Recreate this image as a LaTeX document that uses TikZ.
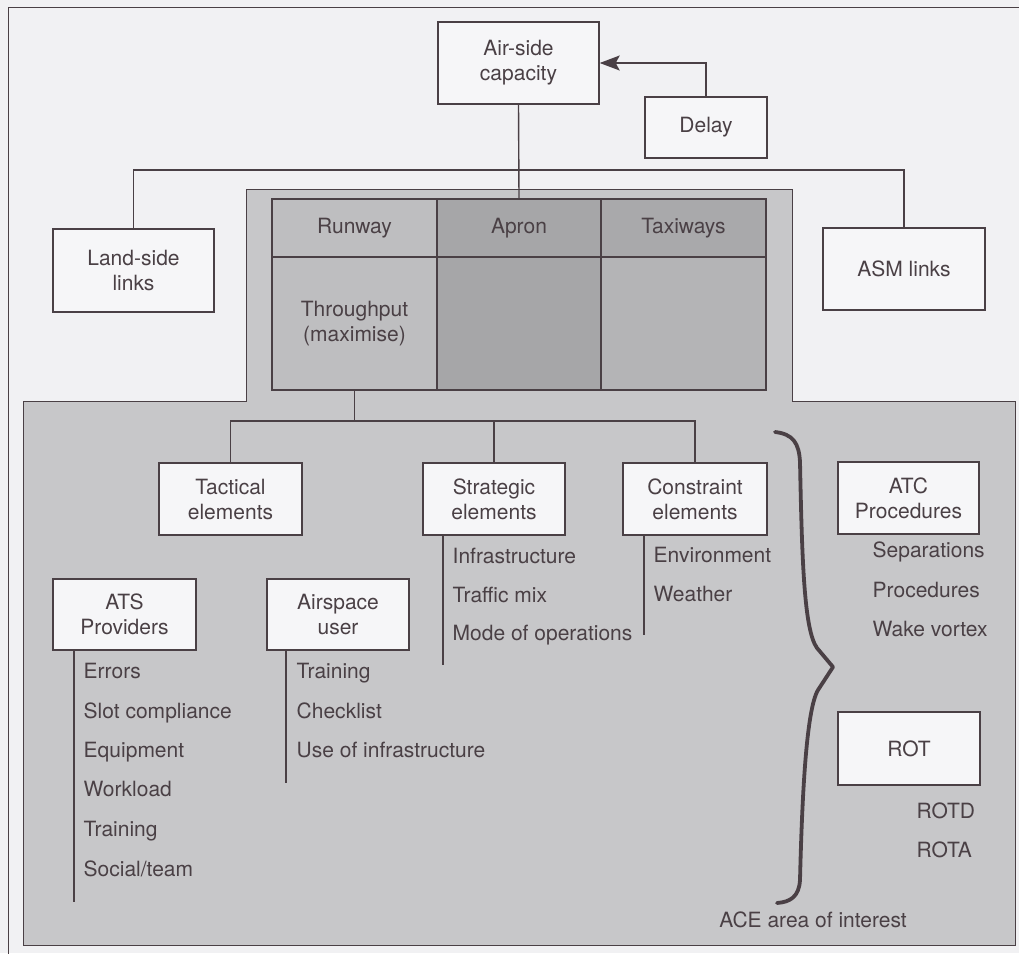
\documentclass[tikz,border=0pt]{standalone}
\usepackage{fontspec}
\setmainfont{TeX Gyre Heros}
\usepackage{tikz}
\usetikzlibrary{positioning,arrows.meta}
\usepackage{xcolor}
\definecolor{pagebg}{HTML}{F1F1F3}
\definecolor{boxwhite}{HTML}{F6F6F8}
\definecolor{areagray}{HTML}{C7C7C9}
\definecolor{rwygray}{HTML}{BEBEC0}
\definecolor{aprgray}{HTML}{A6A6A8}
\definecolor{twygray}{HTML}{A9A9AB}
\definecolor{twylight}{HTML}{B4B4B6}
\definecolor{inkline}{HTML}{4A4045}

\begin{document}
\begin{tikzpicture}[x=1pt,y=-1pt,color=inkline,line width=1.4pt,
    box/.style={draw,fill=boxwhite,align=center,inner sep=0pt,
        minimum width=142pt,minimum height=72pt,font=\fontsize{21}{25}\selectfont},
    cell/.style={draw,align=center,inner sep=0pt,minimum width=165pt,
        minimum height=58pt,font=\fontsize{21}{25}\selectfont},
    item/.style={anchor=base west,inner sep=0pt,font=\fontsize{21}{25}\selectfont}]
    \clip (0,0) rectangle (1019,953);
    \fill[pagebg] (0,0) rectangle (1019,953);
    \draw[line width=1pt] (8,970) -- (8,7) -- (1040,7);

    % shaded area of the airport system
    \filldraw[fill=areagray,line width=1pt] (246,189) -- (792,189) -- (792,401)
        -- (1015,401) -- (1015,945) -- (23,945) -- (23,401) -- (246,401) -- cycle;

    \begin{scope}[shift={(0,0)}]
        \node[box,minimum width=161pt,minimum height=82pt] (air) at (518.5,63) {Air-side\\capacity};
        \node[box,minimum width=122pt,minimum height=61pt] (delay) at (706,127.5) {Delay};
        \node[box,minimum width=161pt,minimum height=83pt] (land) at (133.5,270.5) {Land-side\\links};
        \node[box,minimum width=162pt,minimum height=82pt] (asm) at (904,269) {ASM links};

        \node[cell,fill=rwygray] (rwy) at (354.5,228) {Runway};
        \node[cell,fill=aprgray,minimum width=164pt] (apr) at (519,228) {Apron};
        \node[cell,fill=twygray] (twy) at (683.5,228) {Taxiways};
        \node[cell,fill=rwygray,minimum height=133pt] (thru) at (354.5,323.5) {Throughput\\(maximise)};
        \node[cell,fill=aprgray,minimum width=164pt,minimum height=133pt] (aprlow) at (519,323.5) {};
        \node[cell,fill=twylight,minimum height=133pt] (twylow) at (683.5,323.5) {};

        \node[box,minimum width=143pt] (tact) at (230.5,499) {Tactical\\elements};
        \node[box] (strat) at (494,499) {Strategic\\elements};
        \node[box,minimum width=144pt] (cons) at (695,499) {Constraint\\elements};
        \node[box,minimum width=141pt] (atc) at (908.5,498) {ATC\\Procedures};

        \node[box,minimum width=143pt,minimum height=71pt] (ats) at (124.5,614.5) {ATS\\Providers};
        \node[box,minimum height=71pt] (user) at (338,614.5) {Airspace\\user};
        \node[box,minimum height=73pt] (rot) at (909,748.5) {ROT};

        \node[item] (infra) at (452,563) {Infrastructure};
        \node[item] (mix) at (452,602) {Traffic mix};
        \node[item] (mode) at (452,640) {Mode of operations};

        \node[item] (env) at (653,562) {Environment};
        \node[item] (wx) at (653,601) {Weather};

        \node[item] (sep) at (872,557) {Separations};
        \node[item] (proc) at (872,597) {Procedures};
        \node[item] (wake) at (872,636) {Wake vortex};

        \node[item] (err) at (83,678) {Errors};
        \node[item] (slot) at (83,718) {Slot compliance};
        \node[item] (equip) at (83,757) {Equipment};
        \node[item] (work) at (83,796) {Workload};
        \node[item] (train) at (83,836) {Training};
        \node[item] (social) at (83,876) {Social/team};

        \node[item] (utrain) at (296,678) {Training};
        \node[item] (check) at (296,718) {Checklist};
        \node[item] (useinf) at (296,757) {Use of infrastructure};

        \node[item] (rotd) at (916,818) {ROTD};
        \node[item] (rota) at (916,857) {ROTA};

        \node[anchor=base,inner sep=0pt,font=\fontsize{21}{25}\selectfont] (ace) at (813,927) {ACE area of interest};

        \coordinate (split1) at (518.5,170);
        \coordinate (split2) at (354.5,421);
        \coordinate (stratend) at (443,665);
        \coordinate (consend) at (644,635);
        \coordinate (atsend) at (74,902);
        \coordinate (userend) at (286,783);

        \draw[-{Stealth[length=20pt,width=15pt,inset=4pt]}] (delay.north) |- (air.east);
        \draw (air.south) -- (apr.north);
        \draw (land.north) |- (split1) -| (asm.north);
        \draw (thru.south) -- (split2);
        \draw (tact.north) |- (split2) -| (cons.north);
        \draw (strat.north) -- (strat.north |- split2);
        \draw (strat.south -| stratend) -- (stratend);
        \draw (cons.south -| consend) -- (consend);
        \draw (ats.south -| atsend) -- (atsend);
        \draw (user.south -| userend) -- (userend);

        % brace round the ACE area of interest
        \draw[line width=3.8pt,line cap=round,line join=round] (775,432)
            .. controls (793,434) and (799,443) .. (800,462)
            .. controls (802,560) and (804,630) .. (817,648) -- (833,667) -- (818,690)
            .. controls (806,710) and (802,800) .. (800,880)
            .. controls (799,897) and (790,902) .. (777,903);
    \end{scope}
\end{tikzpicture}
\end{document}
